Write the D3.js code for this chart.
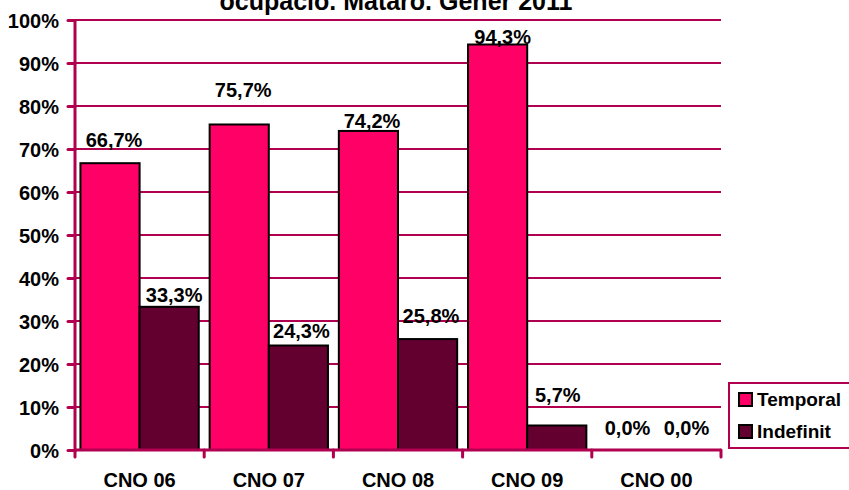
<!DOCTYPE html>
<html>
<head>
<meta charset="utf-8">
<script src="https://cdn.jsdelivr.net/npm/d3@7/dist/d3.min.js"></script>
<style>
  html, body { margin: 0; padding: 0; background: #fff; }
  svg { display: block; font-family: Arial, "Liberation Sans", sans-serif; font-weight: bold; }
</style>
</head>
<body>
<svg id="chart" width="849" height="490"></svg>
<script>
// Contract type by occupation group, Mataró, January 2011
const categories = ["CNO 06", "CNO 07", "CNO 08", "CNO 09", "CNO 00"];
const seriesNames = ["Temporal", "Indefinit"];
const temporal = [66.7, 75.7, 74.2, 94.3, 0.0];
const indefinit = [33.3, 24.3, 25.8, 5.7, 0.0];
const yTicks = [0, 10, 20, 30, 40, 50, 60, 70, 80, 90, 100];
const titleText = "ocupació. Mataró. Gener 2011";

// Label nudges [dx, dy] relative to the top-centre of each bar
const labelNudge = {
  Temporal:  [[4, -16], [4, -27.5], [3.6, -2.6], [5, -1], [0.7, -15]],
  Indefinit: [[5, -5], [3, -8], [3.4, -16.4], [1, -23.5], [0.5, -15]]
};

const colors = { Temporal: "#FF0066", Indefinit: "#640030" };
const axisColor = "#B0004F";
const fmt = v => d3.format(".1f")(v).replace(".", ",") + "%";

const svg = d3.select("#chart");
const plot = { left: 75, right: 721, top: 20, bottom: 450 };

const x0 = d3.scaleBand().domain(categories).range([plot.left, plot.right]).padding(0);
const x1 = d3.scaleBand().domain(seriesNames).range([0, x0.bandwidth()])
  .paddingInner(0).paddingOuter(0.092);
const y = d3.scaleLinear().domain([0, 100]).range([plot.bottom, plot.top]);

// Title (second line of the heading)
svg.append("text")
  .attr("x", 396).attr("y", 10)
  .attr("text-anchor", "middle")
  .attr("font-size", 25)
  .attr("fill", "#000")
  .text(titleText);

// Horizontal gridlines
svg.append("g").selectAll("line")
  .data(yTicks.filter(t => t > 0))
  .join("line")
  .attr("x1", plot.left).attr("x2", plot.right)
  .attr("y1", d => y(d)).attr("y2", d => y(d))
  .attr("stroke", axisColor).attr("stroke-width", 2);

// Bars
const rows = categories.map((c, i) => ({ cat: c, i, values: [
  { key: "Temporal", value: temporal[i] },
  { key: "Indefinit", value: indefinit[i] }
]}));

const groups = svg.append("g").selectAll("g")
  .data(rows).join("g")
  .attr("transform", d => `translate(${x0(d.cat)},0)`);

groups.selectAll("rect")
  .data(d => d.values.filter(v => v.value > 0))
  .join("rect")
  .attr("x", d => x1(d.key))
  .attr("y", d => y(d.value))
  .attr("width", x1.bandwidth())
  .attr("height", d => y(0) - y(d.value))
  .attr("fill", d => colors[d.key])
  .attr("stroke", "#000").attr("stroke-width", 2);

// Value labels
groups.selectAll("text.val")
  .data(d => d.values.map(v => ({ ...v, i: d.i })))
  .join("text")
  .attr("class", "val")
  .attr("x", d => x1(d.key) + x1.bandwidth() / 2 + labelNudge[d.key][d.i][0])
  .attr("y", d => y(d.value) + labelNudge[d.key][d.i][1])
  .attr("text-anchor", "middle")
  .attr("font-size", 20)
  .attr("fill", "#000")
  .text(d => fmt(d.value));

// Y axis
const yAxis = svg.append("g").attr("transform", `translate(${plot.left},0)`)
  .call(d3.axisLeft(y).tickValues(yTicks).tickSize(7).tickPadding(9).tickFormat(d => d + "%"));
yAxis.select(".domain").attr("stroke", axisColor).attr("stroke-width", 3)
  .attr("d", `M0,${plot.top}V${plot.bottom + 2}`);
yAxis.selectAll(".tick line").attr("stroke", axisColor).attr("stroke-width", 3)
  .attr("stroke-linecap", "round");
yAxis.selectAll(".tick text").attr("font-size", 20).attr("fill", "#000")
  .attr("font-family", "Arial, 'Liberation Sans', sans-serif").attr("font-weight", "bold")
  .attr("dy", "0.36em");

// X axis
const xg = svg.append("g").attr("transform", `translate(0,${plot.bottom})`);
xg.append("line")
  .attr("x1", plot.left).attr("x2", plot.right)
  .attr("stroke", axisColor).attr("stroke-width", 3);
xg.selectAll("line.tk")
  .data(categories.map(c => x0(c)).concat([plot.right]))
  .join("line").attr("class", "tk")
  .attr("x1", d => d).attr("x2", d => d)
  .attr("y1", 0).attr("y2", 7)
  .attr("stroke", axisColor).attr("stroke-width", 3).attr("stroke-linecap", "round");
xg.selectAll("text")
  .data(categories).join("text")
  .attr("x", d => x0(d) + x0.bandwidth() / 2)
  .attr("y", 37)
  .attr("text-anchor", "middle")
  .attr("font-size", 20)
  .attr("fill", "#000")
  .text(d => d);

// Legend
const lg = svg.append("g");
lg.append("rect")
  .attr("x", 729).attr("y", 383).attr("width", 140).attr("height", 65)
  .attr("fill", "#fff").attr("stroke", axisColor).attr("stroke-width", 2);
seriesNames.forEach((name, i) => {
  const yy = 393 + i * 32;
  lg.append("rect")
    .attr("x", 739).attr("y", yy).attr("width", 13).attr("height", 13)
    .attr("fill", colors[name]).attr("stroke", "#000").attr("stroke-width", 2);
  lg.append("text")
    .attr("x", 757).attr("y", yy + 13)
    .attr("font-size", 19).attr("fill", "#000")
    .text(name);
});
</script>
</body>
</html>
